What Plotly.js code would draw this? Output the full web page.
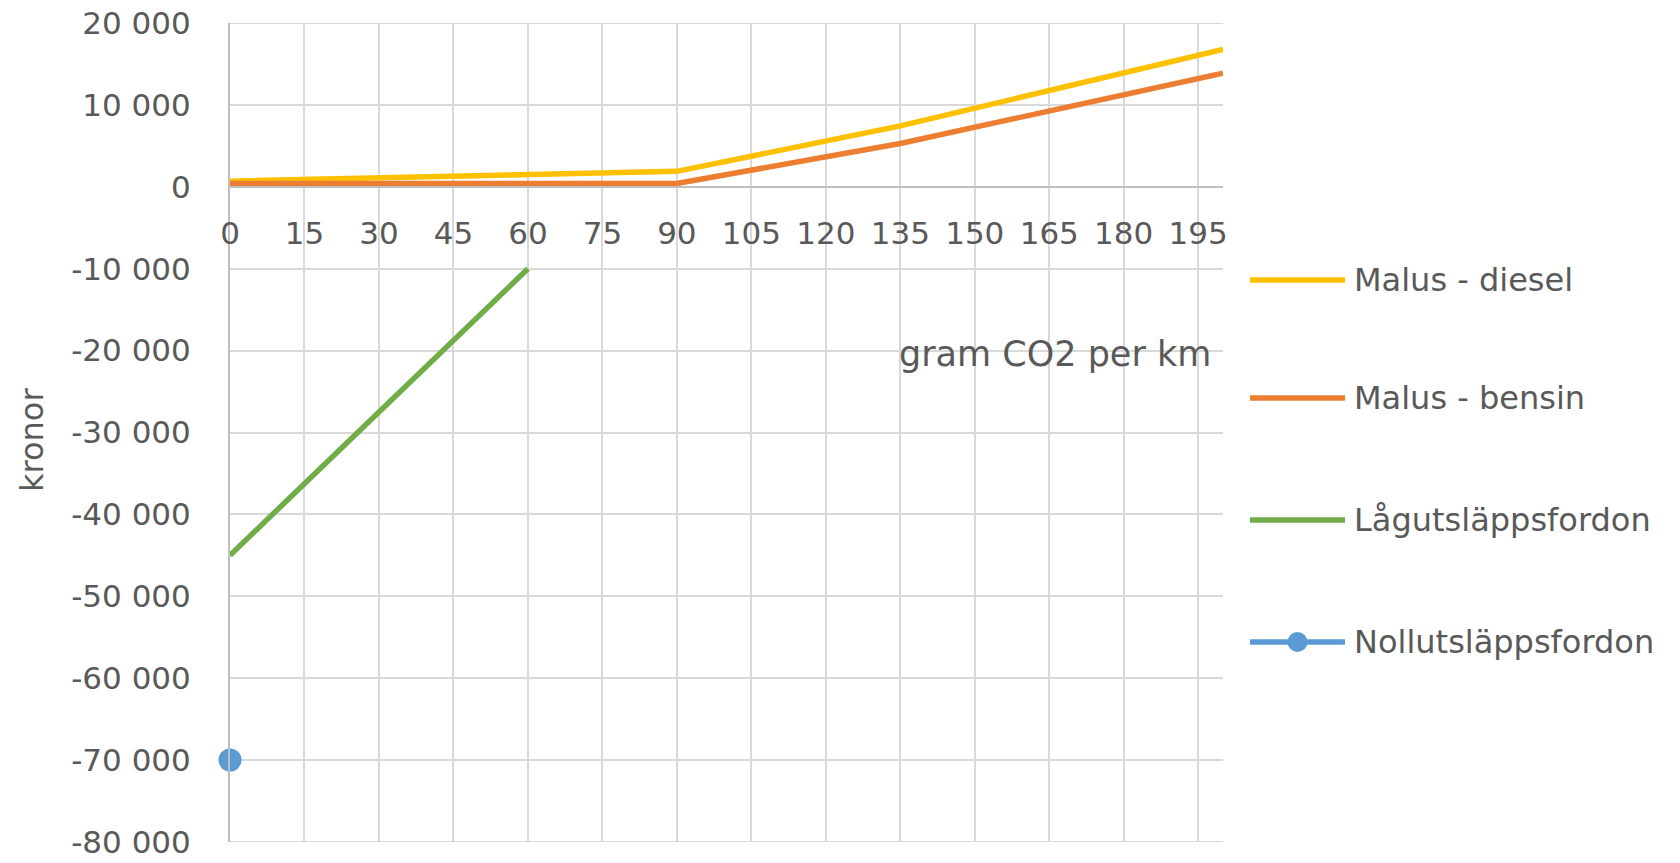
<!DOCTYPE html>
<html>
<head>
<meta charset="utf-8">
<script src="https://cdn.plot.ly/plotly-3.0.1.min.js"></script>
<style>
  html, body { margin: 0; padding: 0; background: #ffffff; }
  #chart { width: 1680px; height: 863px; }
</style>
</head>
<body>
<div id="chart"></div>
<script>
// ---- data ----
const seriesNames = ["Malus - diesel", "Malus - bensin", "Lågutsläppsfordon", "Nollutsläppsfordon"];
const seriesColors = ["#FFC000", "#ED7D31", "#70AD47", "#5B9BD5"];

const dieselX = [0, 90, 135, 200];
const dieselY = [700, 1900, 7450, 16800];

const bensinX = [0, 90, 135, 200];
const bensinY = [400, 420, 5300, 13900];

const lagX = [0, 60];
const lagY = [-45000, -10000];

const nollX = [0];
const nollY = [-70000];

const xTickVals = [0, 15, 30, 45, 60, 75, 90, 105, 120, 135, 150, 165, 180, 195];
const yTickVals = [20000, 10000, 0, -10000, -20000, -30000, -40000, -50000, -60000, -70000, -80000];
const yTickText = ["20 000", "10 000", "0", "-10 000", "-20 000", "-30 000", "-40 000", "-50 000", "-60 000", "-70 000", "-80 000"];

const xTitle = "gram CO2 per km";
const yTitle = "kronor";

// ---- chart ----
const FONT = "DejaVu Sans, sans-serif";
const TXT = "#595959";
const FS = 32;
const TFS = 31;
const LW = 5.5;
const GRID = "#d9d9d9";

const M = { l: 230, r: 457, t: 23, b: 21 };
const PW = 1680 - M.l - M.r, PH = 863 - M.t - M.b;
const px2x = p => (p - M.l) / PW;
const py2y = p => (863 - M.b - p) / PH;

const traces = [
  { x: dieselX, y: dieselY, name: seriesNames[0], mode: "lines", line: { color: seriesColors[0], width: LW } },
  { x: bensinX, y: bensinY, name: seriesNames[1], mode: "lines", line: { color: seriesColors[1], width: LW } },
  { x: lagX, y: lagY, name: seriesNames[2], mode: "lines", line: { color: seriesColors[2], width: LW } },
  { x: nollX, y: nollY, name: seriesNames[3], mode: "lines+markers", line: { color: seriesColors[3], width: LW },
    marker: { color: seriesColors[3], size: 23, symbol: "circle" } }
].map(t => Object.assign(t, { showlegend: false, cliponaxis: false, hoverinfo: "x+y+name" }));

const yMin = -80000, yMax = 20000;
const pad = 15;
const zeroFrac = (0 - (yMin - pad)) / ((yMax + pad) - (yMin - pad));

const shapes = [];
const annotations = [];

// gridlines at the very top and bottom of the value range
[yMin, yMax].forEach(v => shapes.push({ type: "line", xref: "paper", yref: "y", x0: 0, x1: 1, y0: v, y1: v,
  layer: "below", line: { color: GRID, width: 2 } }));

// custom legend (long line samples like the reference)
const legendPy = [280, 398, 520, 642];
const lx0 = px2x(1250), lx1 = px2x(1345), ltx = px2x(1352);
seriesNames.forEach((nm, i) => {
  const ly = py2y(legendPy[i]);
  shapes.push({ type: "line", xref: "paper", yref: "paper", x0: lx0, x1: lx1, y0: ly, y1: ly,
                line: { color: seriesColors[i], width: LW } });
  annotations.push({ xref: "paper", yref: "paper", x: ltx, y: ly, xanchor: "left", yanchor: "middle",
                     text: nm, showarrow: false, font: { family: FONT, size: FS, color: TXT } });
});
shapes.push({ type: "circle", xref: "paper", yref: "paper", xsizemode: "pixel", ysizemode: "pixel",
              xanchor: (lx0 + lx1) / 2, yanchor: py2y(legendPy[3]), x0: -10, x1: 10, y0: -10, y1: 10,
              fillcolor: seriesColors[3], line: { width: 0 } });

annotations.push({ xref: "paper", yref: "paper", x: px2x(1213), y: py2y(354), xanchor: "right", yanchor: "middle",
                   text: xTitle, showarrow: false, font: { family: FONT, size: 35, color: TXT } });
annotations.push({ xref: "paper", yref: "paper", x: px2x(32), y: py2y(440), xanchor: "center", yanchor: "middle",
                   text: yTitle, textangle: -90, showarrow: false, font: { family: FONT, size: FS, color: TXT } });

const layout = {
  width: 1680, height: 863,
  margin: { l: M.l, r: M.r, t: M.t, b: M.b, pad: 0 },
  paper_bgcolor: "#ffffff", plot_bgcolor: "#ffffff",
  font: { family: FONT, size: FS, color: TXT },
  showlegend: false,
  xaxis: {
    range: [0, 200], tickvals: xTickVals, ticks: "",
    anchor: "free", position: zeroFrac,
    showgrid: true, gridcolor: GRID, gridwidth: 2,
    showline: true, linecolor: "#bfbfbf", linewidth: 2,
    zeroline: false, ticklabelstandoff: 19,
    tickfont: { family: FONT, size: TFS, color: TXT }
  },
  yaxis: {
    range: [yMin - pad, yMax + pad], tickvals: yTickVals, ticktext: yTickText, ticks: "",
    showgrid: true, gridcolor: GRID, gridwidth: 2,
    showline: true, linecolor: "#bfbfbf", linewidth: 2,
    zeroline: false, ticklabelstandoff: 31, ticklabeloverflow: "allow",
    tickfont: { family: FONT, size: TFS, color: TXT }
  },
  shapes: shapes,
  annotations: annotations
};

Plotly.newPlot("chart", traces, layout, { displayModeBar: false, staticPlot: true });
</script>
</body>
</html>
